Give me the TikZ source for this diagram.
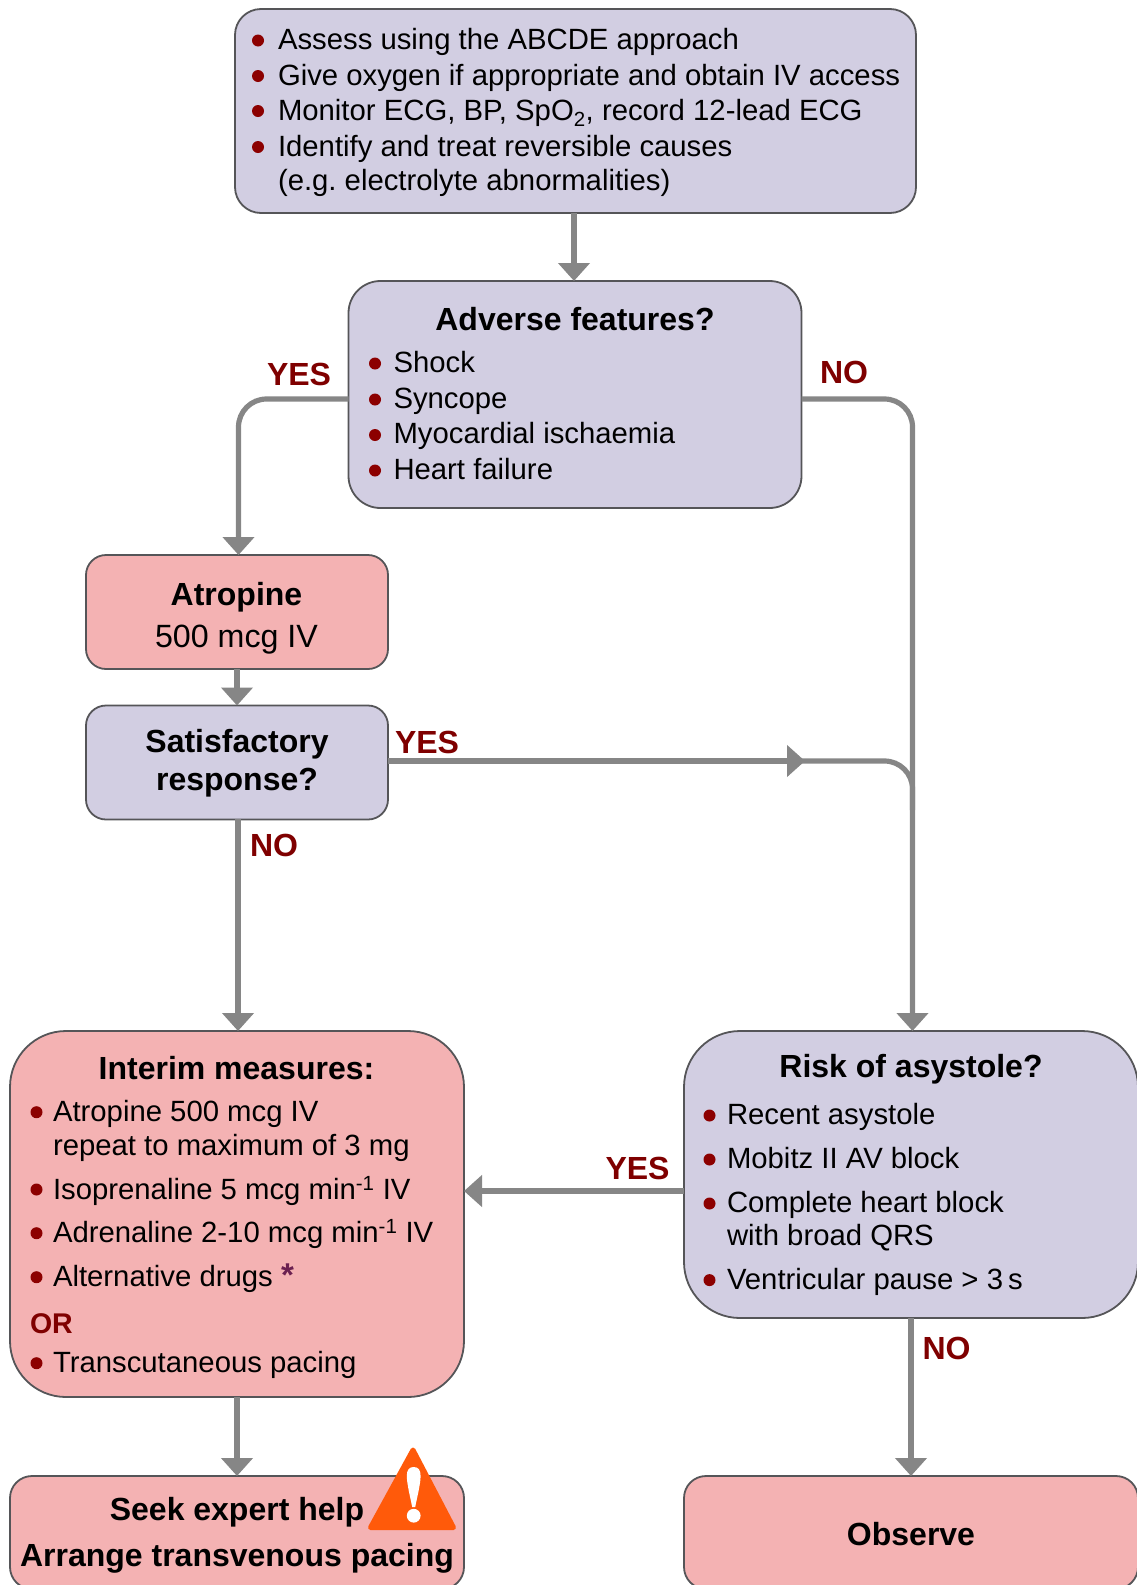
\documentclass[tikz,border=0pt]{standalone}
\usepackage{fontspec}
\setmainfont{Liberation Sans}
\usetikzlibrary{arrows.meta}
\definecolor{lav}{HTML}{D2CEE2}
\definecolor{pinkb}{HTML}{F4B2B3}
\definecolor{edge}{HTML}{555558}
\definecolor{conn}{HTML}{868686}
\definecolor{dred}{HTML}{7F0000}
\definecolor{warn}{HTML}{FF5A0A}
\definecolor{star}{HTML}{6B2050}
\newcommand{\regf}{\fontsize{29.3}{35}\selectfont\frenchspacing}
\newcommand{\bolf}{\fontsize{32}{38}\selectfont\bfseries}
\tikzset{
  x=1pt,y=-1pt,
  boxnode/.style={draw=edge,line width=1.8pt,inner sep=0pt,outer sep=0pt,rectangle},
  lavbox/.style={boxnode,fill=lav},
  pinkbox/.style={boxnode,fill=pinkb},
  line/.style={anchor=base west,inner sep=0pt,outer sep=0pt,text=black,font=\regf,yshift=-0.7pt},
  headline/.style={anchor=base,inner sep=0pt,outer sep=0pt,text=black,font=\bolf,yshift=-0.7pt},
  midline/.style={anchor=base,inner sep=0pt,outer sep=0pt,text=black,font=\fontsize{32.2}{38}\selectfont,yshift=-0.7pt},
  lab/.style={anchor=base west,inner sep=0pt,outer sep=0pt,text=dred,font=\bolf},
  dot/.style={fill=dred!90!red},
  wire/.style={draw=conn,line width=5.2pt},
  flow/.style={wire,-{Triangle[length=18pt,width=31pt]}},
}
\begin{document}
\begin{tikzpicture}
\useasboundingbox (0,0) rectangle (1136,1585);
% boxes
\node[lavbox,rounded corners=26pt,minimum width=681pt,minimum height=204pt] (top) at (575.5,111) {};
\node[lavbox,rounded corners=32pt,minimum width=453pt,minimum height=227pt] (adv) at (575,394.5) {};
\node[pinkbox,rounded corners=20pt,minimum width=302pt,minimum height=114pt] (atr) at (237,612) {};
\node[lavbox,rounded corners=20pt,minimum width=302pt,minimum height=114pt] (sat) at (237,762.5) {};
\node[pinkbox,rounded corners=56pt,minimum width=454pt,minimum height=366pt] (int) at (237,1214) {};
\node[lavbox,rounded corners=56pt,minimum width=454pt,minimum height=287pt] (risk) at (911,1174.5) {};
\node[pinkbox,rounded corners=22pt,minimum width=454pt,minimum height=113pt] (seek) at (237,1532.5) {};
\node[pinkbox,rounded corners=22pt,minimum width=454pt,minimum height=113pt] (obs) at (911,1532.5) {};
% connectors
\coordinate (advL) at (348.7,399);
\coordinate (advR) at (801.5,399);
\coordinate (atrIn) at (238.5,555);
\coordinate (riskIn) at (912.5,1031);
\coordinate (satR) at (388,761);
\coordinate (satTip) at (805,761);
\coordinate (merge) at (912.5,810);
\coordinate (intIn) at (238,1031);
\coordinate (satOut) at (238,819);
\coordinate (riskL) at (684,1191);
\coordinate (intR) at (464,1191);
\coordinate (topOut) at (574,213);
\coordinate (advIn) at (574,281);
\draw[flow] (topOut) -- (advIn);
\draw[flow,rounded corners=28pt] (advL) -| (atrIn);
\draw[flow,rounded corners=28pt] (advR) -| (riskIn);
\draw[flow] (atr.south) -- (sat.north);
\draw[flow] (satOut) -- (intIn);
\draw[wire,rounded corners=28pt] (satR) -| (merge);
\draw[flow] (satR) -- (satTip);
\draw[flow] (riskL) -- (intR);
\draw[flow] (risk.south) -- (obs.north);
\draw[flow] (int.south) -- (seek.north);
% top
\foreach \y in {50,85.5,120.5,156.5}{\fill[dot] (258,\y-9.5) circle (6);}
\node[line] (t1) at (278,49) {Assess using the ABCDE approach};
\node[line] (t2) at (278,85) {Give oxygen if appropriate and obtain IV access};
\node[line] (t3) at (278,120) {Monitor ECG, BP, SpO\textsubscript{2}, record 12-lead ECG};
\node[line] (t4) at (278,155.7) {Identify and treat reversible causes};
\node[line] (t5) at (278,189.5) {(e.g. electrolyte abnormalities)};
% adverse
\node[headline] (a0) at (575,329.5) {Adverse features?};
\foreach \y in {373,409,444.5,480}{\fill[dot] (375,\y-9.5) circle (6);}
\node[line] (a1) at (393.5,371.5) {Shock};
\node[line] (a2) at (393.5,407.5) {Syncope};
\node[line] (a3) at (393.5,443) {Myocardial ischaemia};
\node[line] (a4) at (393.5,478.5) {Heart failure};
% atropine, response
\node[headline] (b0) at (236.5,604.5) {Atropine};
\node[midline] (b1) at (236.5,646.5) {500 mcg IV};
\node[headline] (c0) at (237,751.5) {Satisfactory};
\node[headline] (c1) at (237,790) {response?};
% interim
\node[headline] (d0) at (236.5,1078.5) {Interim measures:};
\foreach \y in {1121.7,1199,1242.7,1286.7,1372.7}{\fill[dot] (36.5,\y-9.5) circle (6);}
\node[line] (d1) at (53,1120.7) {Atropine 500 mcg IV};
\node[line] (d2) at (53,1155) {repeat to maximum of 3 mg};
\node[line] (d3) at (53,1198.5) {Isoprenaline 5 mcg min\textsuperscript{-1} IV};
\node[line] (d4) at (53,1241.7) {Adrenaline 2-10 mcg min\textsuperscript{-1} IV};
\node[line] (d5) at (53,1285.7) {Alternative drugs \textcolor{star}{\fontsize{33}{38}\selectfont\textbf{*}}};
\node[lab,font=\fontsize{28.5}{34}\selectfont\bfseries] (d6) at (30,1333) {OR};
\node[line] (d7) at (53,1371.7) {Transcutaneous pacing};
% risk
\node[headline] (e0) at (911,1076.5) {Risk of asystole?};
\foreach \y in {1125,1169,1213,1289.6}{\fill[dot] (709.5,\y-9.5) circle (6);}
\node[line] (e1) at (727,1124) {Recent asystole};
\node[line] (e2) at (727,1168) {Mobitz II AV block};
\node[line] (e3) at (727,1212) {Complete heart block};
\node[line] (e4) at (727,1245) {with broad QRS};
\node[line] (e5) at (727,1288.6) {Ventricular pause > 3\hspace{0.17em}s};
% end boxes
\node[headline] (f0) at (237,1520) {Seek expert help};
\node[headline] (f1) at (237,1565.5) {Arrange transvenous pacing};
\node[headline] (g0) at (911,1545) {Observe};
% labels
\node[lab] (y1) at (267,385) {YES};
\node[lab] (n1) at (820,383) {NO};
\node[lab] (y2) at (395,753) {YES};
\node[lab] (n2) at (250,856) {NO};
\node[lab] (y3) at (605.5,1179.5) {YES};
\node[lab] (n3) at (922.5,1359) {NO};
% warning sign
\fill[warn,draw=warn,line width=5pt,line join=round] (413,1450) -- (453.5,1527.5) -- (370.5,1527.5) -- cycle;
\fill[white] (406.8,1476) .. controls (406.8,1470) and (409,1467) .. (413.7,1467) .. controls (418.4,1467) and (420.6,1470) .. (420.6,1476) .. controls (420.6,1484) and (416.5,1500) .. (415.2,1507) -- (412.2,1507) .. controls (410.9,1500) and (406.8,1484) .. (406.8,1476) -- cycle;
\fill[white] (413.7,1515.7) circle (6.9);
\end{tikzpicture}
\end{document}
